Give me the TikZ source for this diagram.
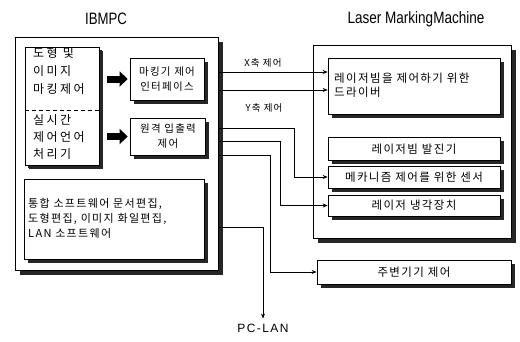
\documentclass[tikz,border=0pt]{standalone}
\usepackage{fontspec}
\setmainfont{Liberation Sans}
\newfontfamily\kra[LetterSpace=20]{Noto Sans CJK KR}
\newfontfamily\krb[LetterSpace=12]{Noto Sans CJK KR}
\newfontfamily\latsp[LetterSpace=12]{Liberation Sans}
\usetikzlibrary{shadows,arrows.meta,fit,calc}
\tikzset{
  shd/.style={drop shadow={shadow xshift=#1, shadow yshift=-#1, fill=black!85, opacity=1}},
  box/.style={draw=black, line width=0.7pt, fill=white, inner sep=0pt, shd=4pt},
  bigbox/.style={draw=black, line width=0.7pt, fill=white, inner sep=0pt, shd=5pt},
  conn/.style={draw, line width=0.6pt, -{Stealth[length=5pt,width=4pt]}},
  blk/.style={line width=7pt, -{Triangle[length=8pt,width=15pt]}},
  txt/.style={inner sep=0pt, font=\krb\fontsize{11.5}{15}\selectfont},
  ttl/.style={inner sep=0pt, font=\fontsize{16.5}{18}\selectfont},
}
\begin{document}
\begin{tikzpicture}[x=1pt,y=-1pt]
\fill[white] (0,0) rectangle (520,341);
\useasboundingbox (0,0) rectangle (520,341);

% titles
\node[ttl] (t1) at (106,19) {\scalebox{0.8}[1]{IBMPC}};
\node[ttl] (t2) at (416,19) {\scalebox{0.82}[1]{Laser MarkingMachine}};

% outer boxes
\node[bigbox, fit={(15,37) (218,270)}] (pc) {};
\node[bigbox, fit={(313,45) (511,238)}] (lm) {};

% PC inner boxes
\node[box, shd=3pt, fit={(25,47) (99,165)}] (lb) {};
\coordinate (dv) at (0,110);
\draw[line width=0.7pt, dash pattern=on 4pt off 3pt] (lb.west |- dv) -- (lb.east |- dv);
\node[box, fit={(130,58) (204,100)}] (ifc) {};
\node[box, fit={(130,118) (205,155)}] (io) {};
\node[box, fit={(24,179) (204,259)}] (sw) {};

% LM inner boxes
\node[box, fit={(328,58) (500,114)}] (drv) {};
\node[box, fit={(328,137) (500,160)}] (osc) {};
\node[box, fit={(328,166) (500,188)}] (sen) {};
\node[box, fit={(328,195) (500,216)}] (cool) {};
\node[box, fit={(317,260) (511,284)}] (per) {};

% texts
\node[txt, anchor=west, align=left, font=\kra\fontsize{12}{18}\selectfont] (lbt1) at (33,71) {도형 및\\이미지\\마킹제어};
\node[txt, anchor=west, align=left, font=\kra\fontsize{12}{17}\selectfont] (lbt2) at (33,137) {실시간\\제어언어\\처리기};
\node[txt, align=center, font=\krb\fontsize{10.5}{15.5}\selectfont] (ifct) at (167,79) {마킹기 제어\\인터페이스};
\node[txt, align=center, font=\krb\fontsize{10.5}{15.5}\selectfont] (iot) at (168,136) {원격 입출력\\제어};
\node[txt, anchor=west, align=left, font=\krb\fontsize{11}{15}\selectfont] (swt) at (28,218) {통합 소프트웨어 문서편집,\\도형편집, 이미지 화일편집,\\LAN 소프트웨어};
\node[txt, anchor=west, align=left, font=\krb\fontsize{11.5}{14.5}\selectfont] (drvt) at (334,85) {레이저빔을 제어하기 위한\\드라이버};
\node[txt] (osct) at (414,149) {레이저빔 발진기};
\node[txt] (sent) at (414,177) {메카니즘 제어를 위한 센서};
\node[txt] (coolt) at (414,205) {레이저 냉각장치};
\node[txt] (pert) at (414,272) {주변기기 제어};

\node[txt, font=\krb\fontsize{9.5}{10}\selectfont] (xl) at (263,63) {X축 제어};
\node[txt, font=\krb\fontsize{9.5}{10}\selectfont] (yl) at (264,108) {Y축 제어};
\node[inner sep=0pt, font=\latsp\fontsize{12}{14}\selectfont] (lan) at (263,328) {PC-LAN};

% block arrows
\draw[blk, shorten <=8pt, shorten >=2pt] (lb.east |- ifc.west) -- (ifc.west);
\draw[blk, shorten <=8pt, shorten >=2pt] (lb.east |- io.west) -- (io.west);

% connectors
\coordinate (xa) at (0,72);
\coordinate (ya) at (0,90);
\draw[conn] (pc.east |- xa) -- (drv.west |- xa);
\draw[conn] (pc.east |- ya) -- (drv.west |- ya);

\coordinate (c1) at (294,128);
\coordinate (c2) at (280,141);
\coordinate (c3) at (270,155);
\coordinate (c4) at (263,227);
\draw[conn] (pc.east |- c1) -| (c1 |- sen.west) -- (sen.west);
\draw[conn] (pc.east |- c2) -| (c2 |- cool.west) -- (cool.west);
\draw[conn] (pc.east |- c3) -| (c3 |- per.west) -- (per.west);
\draw[conn] (pc.east |- c4) -| ([yshift=5pt]lan.north);
\end{tikzpicture}
\end{document}
